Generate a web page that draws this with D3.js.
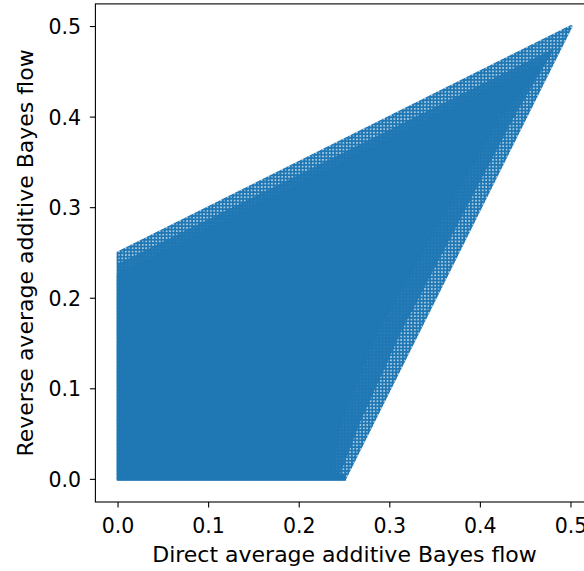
<!DOCTYPE html>
<html>
<head>
<meta charset="utf-8">
<script src="https://cdn.jsdelivr.net/npm/d3@7"></script>
<style>
  body { margin: 0; background: #fff; }
  text { font-family: "DejaVu Sans", sans-serif; fill: #000; }
</style>
</head>
<body>
<div id="chart"></div>
<script>
// tick values on both axes
var xTicks = [0, 0.1, 0.2, 0.3, 0.4, 0.5]
var yTicks = [0, 0.1, 0.2, 0.3, 0.4, 0.5]

// outline of the cloud of points (direct flow, reverse flow)
var hullX = [0, 0.25, 0.5, 0]
var hullY = [0, 0, 0.5, 0.25]

// inner edge of the sparse fringe, where single "+" markers still show
var fringeX = [0, 0.243, 0.268, 0.313, 0.437, 0.482, 0]
var fringeY = [0, 0, 0.065, 0.164, 0.40, 0.476, 0.238]

// solid block where the markers fully overlap
var coreX = [0, 0.25, 0.248, 0.235, 0.245, 0.285, 0.42, 0.47, 0]
var coreY = [0, 0, 0.005, 0.006, 0.065, 0.164, 0.40, 0.46, 0.225]

var width = 584,
    height = 571,
    color = "#1f77b4"

var svg = d3.select("#chart").append("svg")
    .attr("width", width)
    .attr("height", height)

var x = d3.scaleLinear().domain([-0.025, 0.525]).range([95.4, 593.6])
var y = d3.scaleLinear().domain([-0.025, 0.525]).range([502, 3.9])

// "+" marker textures: sparse at the very edge, denser further in
var defs = svg.append("defs")
function plusPattern(id, sw) {
    var pat = defs.append("pattern")
        .attr("id", id)
        .attr("patternUnits", "userSpaceOnUse")
        .attr("width", 3.4)
        .attr("height", 3.4)
    pat.append("path")
        .attr("d", "M0,1.7H3.4M1.7,0V3.4")
        .attr("stroke", color)
        .attr("stroke-width", sw)
}
plusPattern("plusSparse", 2.0)
plusPattern("plusDense", 2.8)

var line = d3.line()
    .x(function(d) { return x(d[0]) })
    .y(function(d) { return y(d[1]) })

svg.append("path")
    .attr("d", line(d3.zip(hullX, hullY)) + "Z")
    .attr("fill", "url(#plusSparse)")
    .attr("stroke", "url(#plusSparse)")
    .attr("stroke-width", 3)
    .attr("stroke-linejoin", "round")

svg.append("path")
    .attr("d", line(d3.zip(fringeX, fringeY)) + "Z")
    .attr("fill", "url(#plusDense)")

svg.append("path")
    .attr("d", line(d3.zip(coreX, coreY)) + "Z")
    .attr("fill", color)
    .attr("stroke", color)
    .attr("stroke-width", 2.5)

// spines
var x0 = x.range()[0], x1 = x.range()[1],
    y0 = y.range()[0], y1 = y.range()[1]
svg.append("rect")
    .attr("x", x0).attr("y", y1)
    .attr("width", x1 - x0).attr("height", y0 - y1)
    .attr("fill", "none")
    .attr("stroke", "#000")
    .attr("stroke-width", 1.1)

// x ticks
var gx = svg.append("g")
gx.selectAll("line").data(xTicks).enter().append("line")
    .attr("x1", function(d) { return x(d) })
    .attr("x2", function(d) { return x(d) })
    .attr("y1", y0).attr("y2", y0 + 5.5)
    .attr("stroke", "#000").attr("stroke-width", 1.1)
gx.selectAll("text").data(xTicks).enter().append("text")
    .attr("x", function(d) { return x(d) })
    .attr("y", 533)
    .attr("text-anchor", "middle")
    .attr("font-size", 20.5)
    .text(function(d) { return d3.format(".1f")(d) })

// y ticks
var gy = svg.append("g")
gy.selectAll("line").data(yTicks).enter().append("line")
    .attr("x1", x0).attr("x2", x0 - 5.5)
    .attr("y1", function(d) { return y(d) })
    .attr("y2", function(d) { return y(d) })
    .attr("stroke", "#000").attr("stroke-width", 1.1)
gy.selectAll("text").data(yTicks).enter().append("text")
    .attr("x", 81)
    .attr("y", function(d) { return y(d) + 7.5 })
    .attr("text-anchor", "end")
    .attr("font-size", 20.5)
    .text(function(d) { return d3.format(".1f")(d) })

// axis titles
svg.append("text")
    .attr("x", (x0 + x1) / 2)
    .attr("y", 562)
    .attr("text-anchor", "middle")
    .attr("font-size", 22)
    .text("Direct average additive Bayes flow")

svg.append("text")
    .attr("transform", "translate(33," + ((y0 + y1) / 2) + ") rotate(-90)")
    .attr("text-anchor", "middle")
    .attr("font-size", 22)
    .text("Reverse average additive Bayes flow")
</script>
</body>
</html>
